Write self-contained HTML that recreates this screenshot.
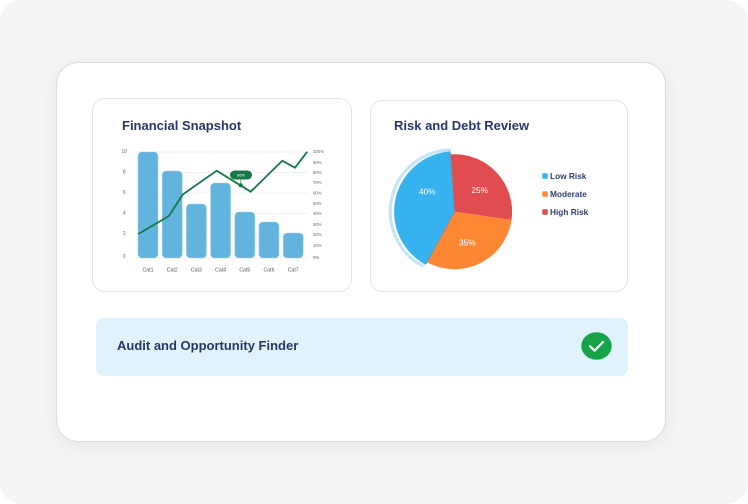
<!DOCTYPE html>
<html><head><meta charset="utf-8"><style>
html,body{margin:0;padding:0;background:#fff;}
svg{display:block;font-family:"Liberation Sans",Arial,sans-serif;}
</style></head><body>
<svg width="748" height="504" viewBox="0 0 748 504" xmlns="http://www.w3.org/2000/svg">
<defs>
<filter id="sh" x="-10%" y="-10%" width="120%" height="130%">
<feDropShadow dx="0" dy="4" stdDeviation="8" flood-color="#000" flood-opacity="0.06"/>
</filter>
</defs>
<rect x="0" y="0" width="748" height="504" rx="22" fill="#f5f5f6"/>
<rect x="56.5" y="62.5" width="609" height="379" rx="22" fill="#fff" stroke="#dcdcdf" filter="url(#sh)"/>
<!-- left card -->
<rect x="92.5" y="98.5" width="259" height="193" rx="12" fill="#fff" stroke="#e3e3e6"/>
<text x="122" y="130" font-size="13" font-weight="bold" fill="#27376c">Financial Snapshot</text>
<g stroke="#eceef1" stroke-width="0.8">
<line x1="135" y1="152" x2="308" y2="152"/>
<line x1="135" y1="172.5" x2="308" y2="172.5"/>
<line x1="135" y1="193" x2="308" y2="193"/>
<line x1="135" y1="213.5" x2="308" y2="213.5"/>
<line x1="135" y1="234" x2="308" y2="234"/>
<line x1="135" y1="258" x2="308" y2="258"/>
</g>
<g font-size="5" fill="#666" text-anchor="middle" dominant-baseline="central">
<text x="124.3" y="152">10</text>
<text x="124.3" y="172.5">8</text>
<text x="124.3" y="193">6</text>
<text x="124.3" y="213.5">4</text>
<text x="124.3" y="234">2</text>
<text x="124.3" y="257">0</text>
</g>
<g fill="#63b3df" stroke="#9fd0ec" stroke-width="0.6">
<rect x="138" y="152" width="20" height="106" rx="4"/>
<rect x="162.2" y="171" width="20" height="87" rx="4"/>
<rect x="186.4" y="204" width="20" height="54" rx="4"/>
<rect x="210.6" y="183" width="20" height="75" rx="4"/>
<rect x="234.8" y="212" width="20" height="46" rx="4"/>
<rect x="259" y="222" width="20" height="36" rx="4"/>
<rect x="283.2" y="233" width="20" height="25" rx="4"/>
</g>
<g font-size="5.2" fill="#555" text-anchor="middle" dominant-baseline="central">
<text x="148" y="270.5">Cat1</text>
<text x="172.2" y="270.5">Cat2</text>
<text x="196.4" y="270.5">Cat3</text>
<text x="220.6" y="270.5">Cat4</text>
<text x="244.8" y="270.5">Cat5</text>
<text x="269" y="270.5">Cat6</text>
<text x="293.2" y="270.5">Cat7</text>
</g>
<g font-size="4.3" fill="#666" dominant-baseline="central">
<text x="313" y="151.7">100%</text>
<text x="313" y="162.3">90%</text>
<text x="313" y="172.7">80%</text>
<text x="313" y="182.7">70%</text>
<text x="313" y="193">60%</text>
<text x="313" y="203.3">50%</text>
<text x="313" y="213.7">40%</text>
<text x="313" y="224.3">30%</text>
<text x="313" y="234.3">20%</text>
<text x="313" y="245.3">10%</text>
<text x="313" y="257.3">0%</text>
</g>
<polyline points="138.3,234 169,216 182.7,194.5 216.7,170.7 250.7,191.7 282.3,160.7 295,167.7 307.3,151.7" fill="none" stroke="#177a45" stroke-width="1.8" stroke-linejoin="miter"/>
<line x1="240.8" y1="179" x2="240.8" y2="185" stroke="#177a45" stroke-width="0.6"/>
<circle cx="240.7" cy="185.3" r="2" fill="#177a45"/>
<rect x="230" y="170.5" width="22" height="9" rx="4.5" fill="#177a45"/>
<text x="241" y="175.2" font-size="4" fill="#fff" text-anchor="middle" dominant-baseline="central">66%</text>

<!-- right card -->
<rect x="370.5" y="100.5" width="257" height="191" rx="12" fill="#fff" stroke="#e3e3e6"/>
<text x="394" y="130" font-size="13" font-weight="bold" fill="#27376c">Risk and Debt Review</text>
<path d="M423.1,266.3 A61.8 61.8 0 0 1 451.3,149.9" fill="none" stroke="#c3e5f7" stroke-width="3"/>
<path d="M454.6,211.7 L450.59,154.34 A57.5 57.5 0 0 1 511.5,220 Z" fill="#e04c4f"/>
<path d="M454.6,211.7 L511.5,220 A57.5 57.5 0 0 1 427.25,262.28 Z" fill="#fd8733"/>
<path d="M454.6,211.7 L425.82,264.92 A60.5 60.5 0 0 1 450.38,151.35 Z" fill="#36b2ee"/>
<line x1="454.6" y1="211.7" x2="426.5" y2="263.6" stroke="#9b8a7c" stroke-width="1.2" opacity="0.8"/>
<line x1="454.6" y1="211.7" x2="450.5" y2="152.8" stroke="#8a7d8c" stroke-width="1.2" opacity="0.7"/>
<g font-size="8.3" fill="#fff" text-anchor="middle" dominant-baseline="central">
<text x="427.3" y="191.7">40%</text>
<text x="479.7" y="190">25%</text>
<text x="467.3" y="242.7">35%</text>
</g>
<rect x="542.3" y="173.3" width="5.5" height="5.5" rx="1" fill="#36b2ee"/>
<rect x="542.3" y="191.3" width="5.5" height="5.5" rx="1" fill="#fd8733"/>
<rect x="542.3" y="209.3" width="5.5" height="5.5" rx="1" fill="#e04c4f"/>
<g font-size="8.3" font-weight="bold" fill="#2f3f6f">
<text x="550" y="178.8">Low Risk</text>
<text x="550" y="196.8">Moderate</text>
<text x="550" y="214.8">High Risk</text>
</g>

<!-- banner -->
<rect x="96" y="318" width="532" height="58" rx="8" fill="#e0f3fc"/>
<text x="117" y="349.8" font-size="13" font-weight="bold" fill="#27376c">Audit and Opportunity Finder</text>
<ellipse cx="596.5" cy="346" rx="15.2" ry="13.8" fill="#17a34a"/>
<polyline points="590,346.3 594.6,350.6 603,342" fill="none" stroke="#fff" stroke-width="2.3" stroke-linecap="round" stroke-linejoin="round"/>
</svg>
</body></html>
